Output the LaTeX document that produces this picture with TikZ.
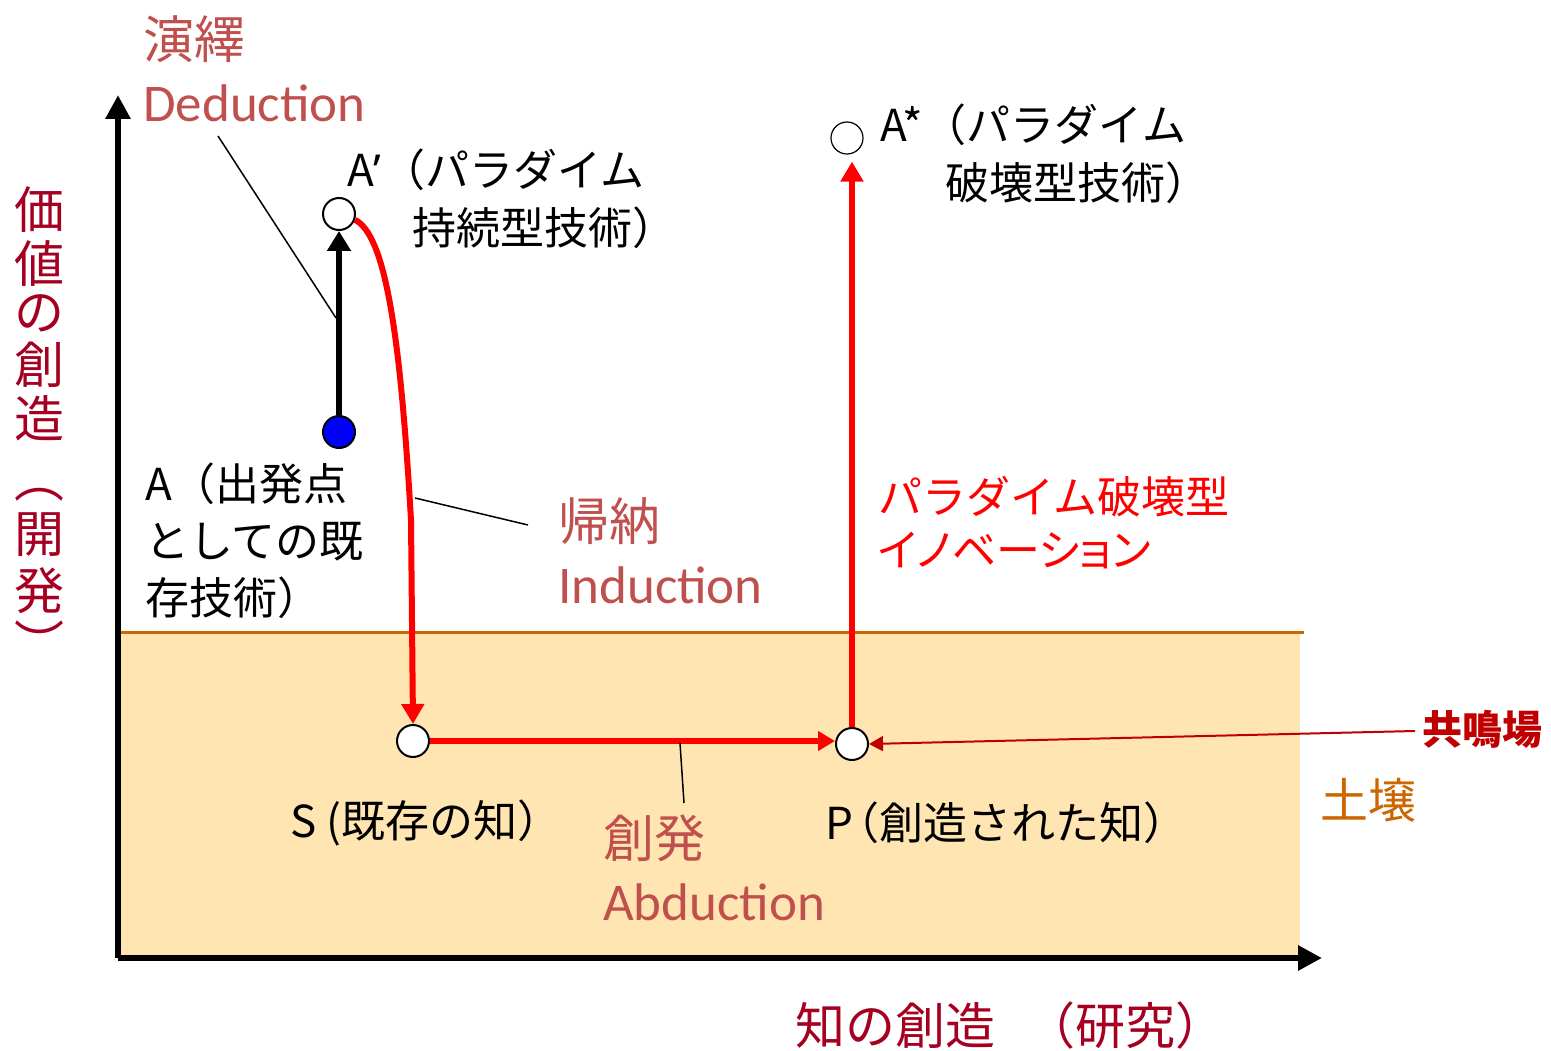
\documentclass[tikz,border=0pt]{standalone}
\usepackage{fontspec}
\setmainfont{Noto Sans CJK JP}
\newfontfamily\latinfont{Noto Sans}
\newfontfamily\labelfont{Carlito}
\usetikzlibrary{arrows.meta}
\definecolor{soil}{RGB}{255,229,178}
\definecolor{soilline}{RGB}{204,102,0}
\definecolor{labelred}{RGB}{192,80,77}
\definecolor{axisred}{RGB}{165,0,33}
\definecolor{resred}{RGB}{192,0,0}
\definecolor{pureblue}{RGB}{0,0,255}
\definecolor{purered}{RGB}{255,0,0}
\begin{document}
\begin{tikzpicture}[x=1pt,y=-1pt,
  dot/.style={circle,draw=black,line width=2pt,fill=white,minimum size=32pt,inner sep=0pt},
  txt/.style={inner sep=0pt,anchor=west,align=left},
  basetxt/.style={inner sep=0pt,anchor=base west},
  blacktxt/.style={txt,font=\fontsize{44pt}{56pt}\selectfont},
  labelcjk/.style={txt,text=labelred,font=\fontsize{51pt}{60pt}\selectfont},
  labellat/.style={basetxt,text=labelred,font=\labelfont\fontsize{53pt}{60pt}\selectfont},
  vert/.style={inner sep=0pt,text=axisred,font=\fontsize{50pt}{60pt}\selectfont},
  axis/.style={line width=6pt,-{Triangle[length=24pt,width=24pt]}},
  redarrow/.style={draw=purered,line width=6pt,-{Triangle[length=20pt,width=22pt]}},
  leader/.style={draw=black,line width=1.5pt}]
\useasboundingbox (0,0) rectangle (1551,1051);
% soil
\fill[soil] (118,632) rectangle (1300,958);
\draw[soilline,line width=3pt] (118,632) -- (1304,632);
% axes
\coordinate (O) at (118,958);
\coordinate (Ytop) at (118,95);
\coordinate (Xend) at (1322,958);
\draw[axis] (O) -- (Ytop);
\draw[axis] (O) -- (Xend);
% points
\node[dot,fill=pureblue] (A) at (339,432) {};
\node[dot] (Ap) at (339,214) {};
\node[dot] (S) at (413,741) {};
\node[dot] (P) at (852,744) {};
\node[dot,line width=1.2pt] (As) at (847,138) {};
% arrows
\draw[line width=6pt,-{Triangle[length=20pt,width=23pt]}] (A) -- (Ap);
\draw[redarrow] (Ap.-20) .. controls (385,235) and (400,330) .. (411,520) -- (S.north);
\draw[redarrow,-{Triangle[length=17pt,width=19pt]}] (S.east) -- (P.west |- S.east);
\draw[redarrow,shorten >=7pt] (P.north) -- (P.north |- As.south);
% resonance field leader
\node[txt,text=resred,font=\fontsize{40pt}{48pt}\selectfont\bfseries] (res) at (1422,729) {共鳴場};
\coordinate (resl) at (1415,731);
\draw[resred,line width=2pt,-{Triangle[length=14pt,width=15pt]}] (resl) -- (P.east);
% leader lines
\coordinate (dedA) at (218,136);
\coordinate (dedB) at (336,318);
\draw[leader] (dedA) -- (dedB);
\coordinate (indA) at (415,498);
\coordinate (indB) at (528,525);
\draw[leader] (indA) -- (indB);
\coordinate (abdA) at (680,743);
\coordinate (abdB) at (684,803);
\draw[leader] (abdA) -- (abdB);
% labels: deduction / induction / abduction
\node[labelcjk] (ded1) at (143,39) {演繹};
\node[labellat] (ded2) at (143,122) {Deduction};
\node[labelcjk] (ind1) at (558,521) {帰納};
\node[labellat] (ind2) at (558,603) {Induction};
\node[labelcjk] (abd1) at (603,838) {創発};
\node[labellat] (abd2) at (603,920) {Abduction};
% black texts
\node[blacktxt] (tAp1) at (347,170) {A{\latinfont ’}（パラダイム};
\node[blacktxt] (tAp2) at (412,228) {持続型技術）};
\node[blacktxt] (tAs1) at (880,125) {A*（パラダイム};
\node[blacktxt] (tAs2) at (945,183) {破壊型技術）};
\node[blacktxt,font=\fontsize{44pt}{57pt}\selectfont] (tA) at (145,541) {A（出発点\\としての既\\存技術）};
\node[blacktxt] (tS) at (290,823) {S (既存の知）};
\node[blacktxt] (tP) at (825,823) {P\hspace{-18pt}（創造された知）};
% red innovation text
\node[txt,text=purered,font=\fontsize{44pt}{53pt}\selectfont] (inno) at (878,523) {パラダイム破壊型\\{\addfontfeature{RawFeature=+palt}イノベーション}};
% soil label
\node[txt,text=soilline,font=\fontsize{48pt}{56pt}\selectfont] (soilt) at (1320,800) {土壌};
% axis labels
\node[txt,text=axisred,font=\fontsize{50pt}{60pt}\selectfont] (xlab) at (795,1025) {知の創造\hspace{30pt}（研究）};
\foreach \c/\yy [count=\i] in {価/210,値/263,の/313,創/365,造/418,︵/495,開/535,発/591,︶/642}
  \node[vert] (v\i) at (39,\yy) {\c};
\end{tikzpicture}
\end{document}
